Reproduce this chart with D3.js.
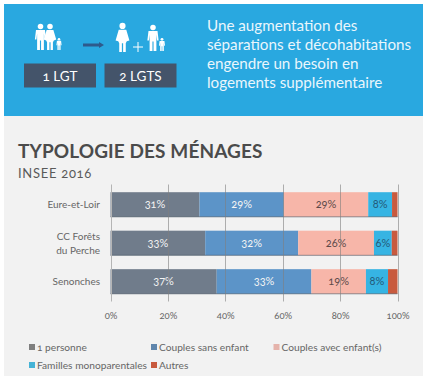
<!DOCTYPE html>
<html>
<head>
<meta charset="utf-8">
<script src="https://cdn.jsdelivr.net/npm/d3@7"></script>
<style>
html, body { margin: 0; padding: 0; background: #fff; }
svg { display: block; font-family: Lato, "Open Sans", sans-serif; font-variant-numeric: oldstyle-nums; }
</style>
</head>
<body>
<svg width="425" height="380"></svg>
<script>
var categories = ['Eure-et-Loir', 'CC Forêts|du Perche', 'Senonches'];
var seriesNames = ['1 personne', 'Couples sans enfant', 'Couples avec enfant(s)', 'Familles monoparentales', 'Autres'];
var unePersonne = [31, 33, 37];
var couplesSansEnfant = [29.4, 32.4, 33];
var couplesAvecEnfants = [29.4, 26.4, 19];
var famillesMono = [8.3, 6.2, 7.7];
var autres = [1.9, 2, 3.3];
var ticks = [0, 20, 40, 60, 80, 100];
var colors = ['#707c8b', '#5c94c8', '#f7b6a9', '#36b4e3', '#c85a3e'];
var legendColors = ['#7f7f7f', '#5f86ad', '#e5b3ab', '#45b3d6', '#c85a3e'];
var headerLines = ['Une augmentation des', 'séparations et décohabitations', 'engendre un besoin en', 'logements supplémentaire'];

var svg = d3.select('svg');

svg.append('rect').attr('x', 4).attr('y', 116).attr('width', 419).attr('height', 260).attr('fill', '#f2f2f2');
svg.append('rect').attr('x', 4).attr('y', 4).attr('width', 419).attr('height', 112).attr('fill', '#29a8e0');

// header text
svg.append('g').selectAll('text')
    .data(headerLines)
    .enter().append('text')
    .attr('x', 207)
    .attr('y', (d, i) => 31 + i * 19)
    .attr('fill', '#eaf6fc')
    .attr('font-size', 15.2)
    .text(d => d);

// header boxes
[[24, '1 LGT'], [104.5, '2 LGTS']].forEach(d => {
    svg.append('rect').attr('x', d[0]).attr('y', 63.5).attr('width', 72).attr('height', 24).attr('fill', '#44546a');
    svg.append('text').attr('x', d[0] + 36).attr('y', 80.5).attr('text-anchor', 'middle')
        .attr('fill', '#fff').attr('font-size', 13.5).text(d[1]);
});

// pictos
function adult(x, y, h, w, skirt) {
    var k = h / 30;
    var g = svg.append('g').attr('transform', 'translate(' + x + ',' + y + ') scale(' + (k * w) + ',' + k + ')').attr('fill', '#fff');
    g.append('ellipse').attr('cy', 3).attr('rx', 3.2 / w).attr('ry', 3.2);
    if (skirt) {
        g.append('path').attr('d', 'M-3,7 L3,7 L5.5,18 L3.4,19 L2.6,21 L2.6,30 L0.5,30 L0.5,21 L-0.5,21 L-0.5,30 L-2.6,30 L-2.6,21 L-3.4,19 L-5.5,18 Z');
    } else {
        g.append('path').attr('d', 'M-4,7 L4,7 L5,18 L3.6,18 L3,11 L3,30 L0.5,30 L0.5,19 L-0.5,19 L-0.5,30 L-3,30 L-3,11 L-3.6,18 L-5,18 Z');
    }
}
adult(40.5, 24, 26, 1.3, false);
adult(50, 24, 26, 1.3, true);
adult(59, 38, 12, 1.3, false);
adult(122.5, 23, 29, 1.3, true);
adult(153, 25, 26, 1.3, false);
adult(162, 38, 13, 1.4, false);

svg.append('path').attr('d', 'M83,43.5 H99 L99,42 L104,45 L99,48 L99,46.5 H83 Z').attr('fill', '#2e5a8c');
svg.append('path').attr('d', 'M133,47 H143 M138,42 V52').attr('stroke', '#fff').attr('stroke-width', 1);

// titles
svg.append('text').attr('x', 18).attr('y', 158).attr('fill', '#4b4b4b')
    .attr('font-size', 19).attr('font-weight', 700).attr('letter-spacing', 0.1).text('TYPOLOGIE DES MÉNAGES');
svg.append('text').attr('x', 18).attr('y', 178).attr('fill', '#5a5a5a')
    .attr('font-size', 13).attr('letter-spacing', 0.7).text('INSEE 2016');

// chart
var x = d3.scaleLinear().domain([0, 100]).range([110.5, 397.5]);
var y = d3.scaleBand().domain(categories).range([184.5, 301.5]).paddingInner(0.36).paddingOuter(0.2);

var rows = categories.map((c, i) => ({
    cat: c,
    s0: unePersonne[i], s1: couplesSansEnfant[i], s2: couplesAvecEnfants[i], s3: famillesMono[i], s4: autres[i]
}));
var keys = ['s0', 's1', 's2', 's3', 's4'];
var stacked = d3.stack().keys(keys)(rows);

var chart = svg.append('g');

var layer = chart.selectAll('g.layer')
    .data(stacked)
    .enter().append('g').attr('class', 'layer').attr('fill', (d, i) => colors[i]);

layer.selectAll('rect')
    .data(d => d)
    .enter().append('rect')
    .attr('x', d => x(d[0]))
    .attr('y', d => y(d.data.cat))
    .attr('width', d => x(d[1]) - x(d[0]))
    .attr('height', y.bandwidth());

// bottom shadow of the bars
chart.selectAll('line.shadow')
    .data(categories)
    .enter().append('line')
    .attr('x1', x(0)).attr('x2', x(100))
    .attr('y1', d => y(d) + y.bandwidth())
    .attr('y2', d => y(d) + y.bandwidth())
    .attr('stroke', '#3d4a5a').attr('stroke-opacity', 0.55);

// grid
chart.selectAll('line.grid')
    .data(ticks)
    .enter().append('line')
    .attr('x1', d => Math.round(x(d)) + 0.5).attr('x2', d => Math.round(x(d)) + 0.5)
    .attr('y1', 184.5).attr('y2', 301.5)
    .attr('stroke', (d, i) => i === 0 ? '#b5b5b5' : '#7f7f7f')
    .attr('stroke-opacity', (d, i) => i === 0 ? 1 : 0.6);

// value labels
var labelFill = ['#f4f4f4', '#f4f4f4', '#5d4a4a', '#245a78'];
layer.each(function(s, si) {
    if (si > 3) return;
    d3.select(this).selectAll('text')
        .data(s)
        .enter().append('text')
        .attr('x', d => x((d[0] + d[1]) / 2))
        .attr('y', d => y(d.data.cat) + y.bandwidth() / 2 + 3.5)
        .attr('text-anchor', 'middle')
        .attr('font-size', 11)
        .attr('fill', labelFill[si])
        .text(d => Math.round(d[1] - d[0]) + '%');
});

// axis
var axis = d3.axisBottom(x).tickValues(ticks).tickFormat(d => d + '%').tickSize(0);
var axisG = svg.append('g').attr('transform', 'translate(0,301)').call(axis);
axisG.select('.domain').remove();
axisG.selectAll('text')
    .attr('y', 11)
    .attr('font-family', 'Lato, sans-serif')
    .attr('font-size', 9.5)
    .attr('fill', '#666');

// categories
var catG = svg.append('g');
categories.forEach(c => {
    var parts = c.split('|');
    parts.forEach((p, i) => {
        catG.append('text')
            .attr('x', 100)
            .attr('y', y(c) + y.bandwidth() / 2 + 3.5 + (i - (parts.length - 1) / 2) * 14)
            .attr('text-anchor', 'end')
            .attr('font-size', 10)
            .attr('fill', '#666')
            .text(p);
    });
});

// legend
var legendPos = [[29, 350.5], [151, 350.5], [273.5, 350.5], [29, 368.5], [151, 368.5]];
seriesNames.forEach((name, i) => {
    var p = legendPos[i];
    svg.append('rect').attr('x', p[0]).attr('y', p[1] - 6.5).attr('width', 6).attr('height', 6).attr('fill', legendColors[i]);
    svg.append('text').attr('x', p[0] + 8).attr('y', p[1]).attr('font-size', 10.2)
        .attr('fill', '#666').text(name);
});
</script>
</body>
</html>
